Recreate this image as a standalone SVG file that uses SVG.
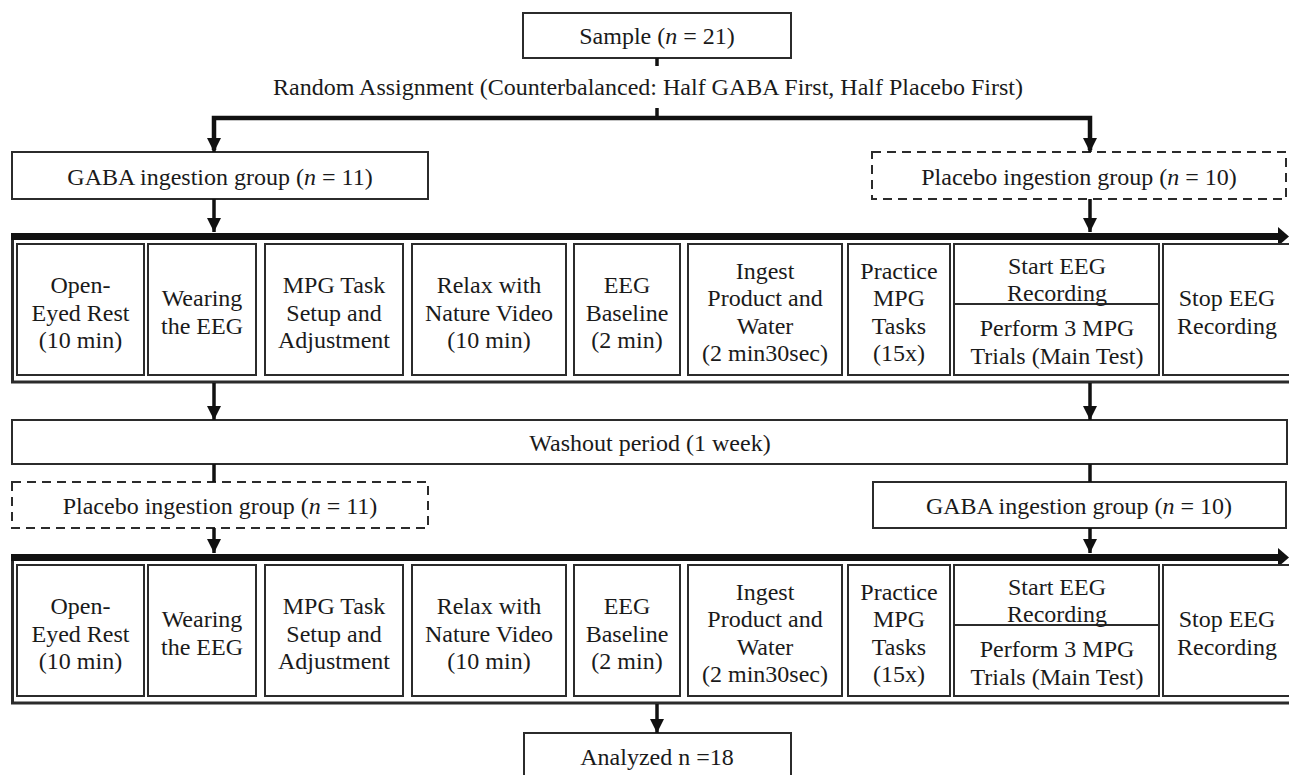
<svg xmlns="http://www.w3.org/2000/svg" width="1289" height="775" viewBox="0 0 1289 775">
<defs>
<marker id="ah" markerUnits="userSpaceOnUse" markerWidth="14" markerHeight="14" refX="14" refY="7" orient="auto">
<path d="M0,0 L14,7 L0,14 z" fill="#111"/>
</marker>
<style>
.box{fill:#fff;stroke:#2b2b2b;stroke-width:2}
.dash{fill:#fff;stroke:#2b2b2b;stroke-width:2;stroke-dasharray:9 6}
.frame{fill:none;stroke:#2b2b2b;stroke-width:3}
.t{font-family:"Liberation Serif","Times New Roman",serif;font-size:24px;fill:#1a1a1a;text-anchor:middle}
.c{stroke:#111;stroke-width:3.5;fill:none}
.thick{stroke:#111;stroke-width:4.5;fill:none}
.i{font-style:italic}
</style>
</defs>
<rect width="1289" height="775" fill="#fff"/>

<g id="sample"><rect class="box" x="523" y="13" width="268" height="45"/><text class="t" x="657" y="44">Sample (<tspan class="i">n</tspan> = 21)</text></g>
<g id="random"><text class="t" x="648" y="95">Random Assignment (Counterbalanced:  Half GABA First, Half Placebo First)</text></g>

<g id="gaba1"><rect class="box" x="12" y="152" width="416" height="47"/><text class="t" x="220" y="185">GABA ingestion group (<tspan class="i">n</tspan> = 11)</text></g>
<g id="placebo1"><rect class="dash" x="872" y="152" width="414" height="47"/><text class="t" x="1079" y="185">Placebo ingestion group (<tspan class="i">n</tspan> = 10)</text></g>

<g id="session1">
<polyline class="frame" points="12.5,240 12.5,382 1289,382"/>
<rect x="11" y="233" width="1270" height="7" fill="#111"/>
<polygon points="1278,227 1289,236.5 1278,246" fill="#111"/>
<g id="s1-1"><rect class="box" x="17" y="244" width="127" height="131"/><text class="t" x="80.5" y="293">Open-</text><text class="t" x="80.5" y="320.5">Eyed Rest</text><text class="t" x="80.5" y="348">(10 min)</text></g>
<g id="s1-2"><rect class="box" x="148" y="244" width="108" height="131"/><text class="t" x="202" y="305.5">Wearing</text><text class="t" x="202" y="333.5">the EEG</text></g>
<g id="s1-3"><rect class="box" x="265" y="244" width="138" height="131"/><text class="t" x="334" y="293">MPG Task</text><text class="t" x="334" y="320.5">Setup and</text><text class="t" x="334" y="348">Adjustment</text></g>
<g id="s1-4"><rect class="box" x="412" y="244" width="154" height="131"/><text class="t" x="489" y="293">Relax with</text><text class="t" x="489" y="320.5">Nature Video</text><text class="t" x="489" y="348">(10 min)</text></g>
<g id="s1-5"><rect class="box" x="574" y="244" width="106" height="131"/><text class="t" x="627" y="293">EEG</text><text class="t" x="627" y="320.5">Baseline</text><text class="t" x="627" y="348">(2 min)</text></g>
<g id="s1-6"><rect class="box" x="688" y="244" width="154" height="131"/><text class="t" x="765" y="278.5">Ingest</text><text class="t" x="765" y="305.5">Product and</text><text class="t" x="765" y="333.5">Water</text><text class="t" x="765" y="360.5">(2 min30sec)</text></g>
<g id="s1-7"><rect class="box" x="848" y="244" width="102" height="131"/><text class="t" x="899" y="278.5">Practice</text><text class="t" x="899" y="305.5">MPG</text><text class="t" x="899" y="333.5">Tasks</text><text class="t" x="899" y="360.5">(15x)</text></g>
<g id="s1-8"><rect class="box" x="954" y="244" width="205" height="131"/><line x1="954" y1="304" x2="1159" y2="304" stroke="#2b2b2b" stroke-width="2"/><text class="t" x="1057" y="273.5">Start EEG</text><text class="t" x="1057" y="300.5">Recording</text><text class="t" x="1057" y="335.5">Perform 3 MPG</text><text class="t" x="1057" y="363.5">Trials (Main Test)</text></g>
<g id="s1-9"><rect class="box" x="1163" y="244" width="132" height="131"/><text class="t" x="1227" y="305.5">Stop EEG</text><text class="t" x="1227" y="333.5">Recording</text></g>
</g>

<g id="washout"><rect class="box" x="12" y="420" width="1275" height="44"/><text class="t" x="650" y="450.5">Washout period (1 week)</text></g>

<g id="placebo2"><rect class="dash" x="12" y="482" width="416" height="46"/><text class="t" x="220" y="513.5">Placebo ingestion group (<tspan class="i">n</tspan> = 11)</text></g>
<g id="gaba2"><rect class="box" x="873" y="482" width="413" height="46"/><text class="t" x="1079" y="513.5">GABA ingestion group (<tspan class="i">n</tspan> = 10)</text></g>

<g id="session2">
<polyline class="frame" points="12.5,561 12.5,703 1289,703"/>
<rect x="11" y="554" width="1270" height="7" fill="#111"/>
<polygon points="1278,548 1289,557.5 1278,567" fill="#111"/>
<g id="s2-1"><rect class="box" x="17" y="565" width="127" height="131"/><text class="t" x="80.5" y="614">Open-</text><text class="t" x="80.5" y="641.5">Eyed Rest</text><text class="t" x="80.5" y="669">(10 min)</text></g>
<g id="s2-2"><rect class="box" x="148" y="565" width="108" height="131"/><text class="t" x="202" y="626.5">Wearing</text><text class="t" x="202" y="654.5">the EEG</text></g>
<g id="s2-3"><rect class="box" x="265" y="565" width="138" height="131"/><text class="t" x="334" y="614">MPG Task</text><text class="t" x="334" y="641.5">Setup and</text><text class="t" x="334" y="669">Adjustment</text></g>
<g id="s2-4"><rect class="box" x="412" y="565" width="154" height="131"/><text class="t" x="489" y="614">Relax with</text><text class="t" x="489" y="641.5">Nature Video</text><text class="t" x="489" y="669">(10 min)</text></g>
<g id="s2-5"><rect class="box" x="574" y="565" width="106" height="131"/><text class="t" x="627" y="614">EEG</text><text class="t" x="627" y="641.5">Baseline</text><text class="t" x="627" y="669">(2 min)</text></g>
<g id="s2-6"><rect class="box" x="688" y="565" width="154" height="131"/><text class="t" x="765" y="599.5">Ingest</text><text class="t" x="765" y="626.5">Product and</text><text class="t" x="765" y="654.5">Water</text><text class="t" x="765" y="681.5">(2 min30sec)</text></g>
<g id="s2-7"><rect class="box" x="848" y="565" width="102" height="131"/><text class="t" x="899" y="599.5">Practice</text><text class="t" x="899" y="626.5">MPG</text><text class="t" x="899" y="654.5">Tasks</text><text class="t" x="899" y="681.5">(15x)</text></g>
<g id="s2-8"><rect class="box" x="954" y="565" width="205" height="131"/><line x1="954" y1="625" x2="1159" y2="625" stroke="#2b2b2b" stroke-width="2"/><text class="t" x="1057" y="594.5">Start EEG</text><text class="t" x="1057" y="621.5">Recording</text><text class="t" x="1057" y="656.5">Perform 3 MPG</text><text class="t" x="1057" y="684.5">Trials (Main Test)</text></g>
<g id="s2-9"><rect class="box" x="1163" y="565" width="132" height="131"/><text class="t" x="1227" y="626.5">Stop EEG</text><text class="t" x="1227" y="654.5">Recording</text></g>
</g>

<g id="analyzed"><rect class="box" x="524" y="733" width="267" height="50"/><text class="t" x="657" y="764.5">Analyzed n =18</text></g>

<g id="connectors">
<line class="c" x1="657" y1="58" x2="657" y2="66"/>
<line class="c" x1="657" y1="108" x2="657" y2="118"/>
<polyline class="thick" points="214,150 214,118 1090,118 1090,150"/>
<line class="c" x1="214" y1="118" x2="214" y2="152" marker-end="url(#ah)"/>
<line class="c" x1="1090" y1="118" x2="1090" y2="152" marker-end="url(#ah)"/>
<line class="c" x1="214" y1="199" x2="214" y2="232" marker-end="url(#ah)"/>
<line class="c" x1="1090" y1="199" x2="1090" y2="232" marker-end="url(#ah)"/>
<line class="c" x1="214" y1="383" x2="214" y2="420" marker-end="url(#ah)"/>
<line class="c" x1="1090" y1="383" x2="1090" y2="420" marker-end="url(#ah)"/>
<line class="c" x1="214" y1="464" x2="214" y2="482"/>
<line class="c" x1="1090" y1="464" x2="1090" y2="482"/>
<line class="c" x1="214" y1="528" x2="214" y2="553" marker-end="url(#ah)"/>
<line class="c" x1="1090" y1="528" x2="1090" y2="553" marker-end="url(#ah)"/>
<line class="c" x1="657" y1="704" x2="657" y2="733" marker-end="url(#ah)"/>
</g>
</svg>
